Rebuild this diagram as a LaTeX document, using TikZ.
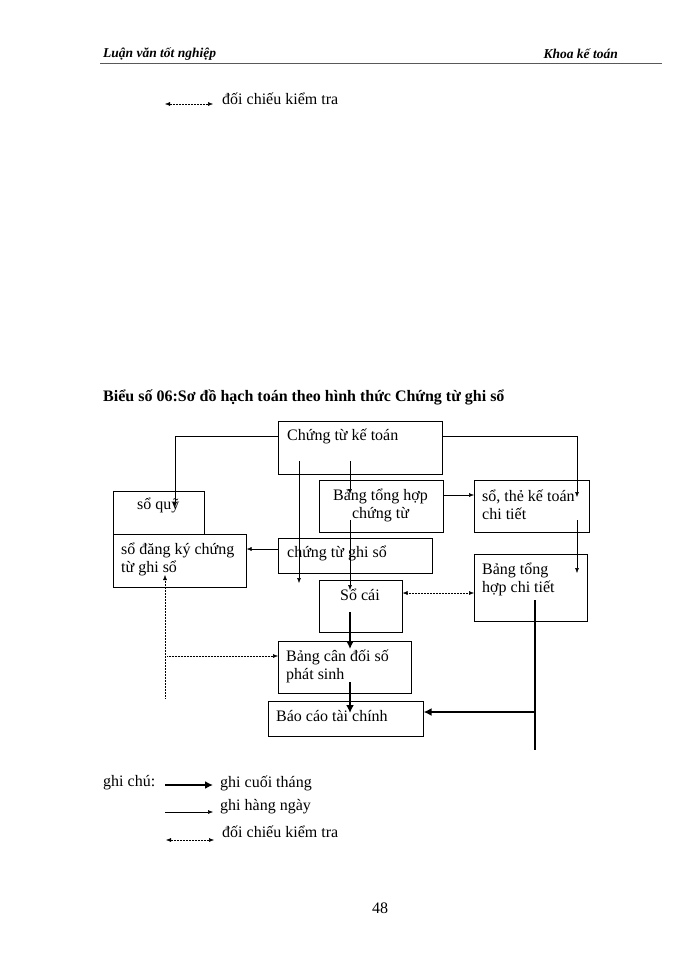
\documentclass[tikz,border=0pt]{standalone}
\usepackage{fontspec}
\setmainfont{Liberation Serif}
\usetikzlibrary{arrows.meta}
\begin{document}
\begin{tikzpicture}[x=1pt,y=-1pt,
  bx/.style={draw,line width=0.6pt,anchor=north west,inner sep=0pt},
  tx/.style={anchor=west,inner sep=0pt,font=\fontsize{16}{18}\selectfont,align=left},
  ln/.style={line width=0.5pt,-{Latex[length=5pt,width=4pt]}},
  dt/.style={line width=0.5pt,densely dotted,-{Latex[length=5pt,width=4pt]}},
  dd/.style={line width=0.5pt,densely dotted,{Latex[length=5pt,width=4pt]}-{Latex[length=5pt,width=4pt]}},
  th/.style={line width=2.4pt,-{Latex[length=8pt,width=8pt]}},
  thn/.style={line width=2.4pt}]
\useasboundingbox (0,0) rectangle (700,960);
% header
\node[tx,font=\fontsize{13.5}{15}\selectfont\bfseries\itshape] (h1) at (103,54) {Luận văn tốt nghiệp};
\node[tx,anchor=east,font=\fontsize{13.5}{15}\selectfont\bfseries\itshape] (h2) at (618,54) {Khoa kế toán};
\coordinate (hl1) at (100,63); \coordinate (hl2) at (662,63);
\draw[line width=0.8pt,gray!70!black] (hl1) -- (hl2);
\coordinate (ta1) at (165,104); \coordinate (ta2) at (213,104);
\draw[dd] (ta1) -- (ta2);
\node[tx] (tl) at (222,99) {đối chiếu kiểm tra};
% title
\node[tx,font=\fontsize{16}{18}\selectfont\bfseries] (title) at (103,397) {Biểu số 06:Sơ đồ hạch toán theo hình thức Chứng từ ghi sổ};
% boxes
\node[bx,minimum width=164pt,minimum height=53pt] (ctkt) at (278,421) {};
\node[bx,minimum width=124pt,minimum height=52pt] (bth) at (319,480) {};
\node[bx,minimum width=115pt,minimum height=52pt] (stkt) at (474,480) {};
\node[bx,minimum width=91pt,minimum height=43pt] (sq) at (113,491) {};
\node[bx,minimum width=133pt,minimum height=53pt] (sdk) at (113,534) {};
\node[bx,minimum width=154pt,minimum height=35pt] (ctgs) at (278,538) {};
\node[bx,minimum width=113pt,minimum height=67pt] (bthct) at (474,554) {};
\node[bx,minimum width=83pt,minimum height=52pt] (sc) at (319,580) {};
\node[bx,minimum width=133pt,minimum height=52pt] (bcd) at (278,641) {};
\node[bx,minimum width=155pt,minimum height=35pt] (bctc) at (268,701) {};
% texts
\node[tx] at (287,436) {Chứng từ kế toán};
\node[tx,align=center] at (333,505) {Bảng tổng hợp\\chứng từ};
\node[tx] at (482,505) {sổ, thẻ kế toán\\chi tiết};
\node[tx] at (137,505) {sổ quỹ};
\node[tx] at (121,559) {sổ đăng ký chứng\\từ ghi sổ};
\node[tx] at (287,553) {chứng từ ghi sổ};
\node[tx] at (482,579) {Bảng tổng\\hợp chi tiết};
\node[tx] at (340,595) {Sổ cái};
\node[tx] at (286,666) {Bảng cân đối số\\phát sinh};
\node[tx] at (276,716) {Báo cáo tài chính};
% connectors
\coordinate (a1) at (175,436); \coordinate (a2) at (175,507);
\draw[ln] (ctkt.west|-a1) -- (a1) -- (a2);
\coordinate (b1) at (577,436); \coordinate (b2) at (577,497);
\draw[ln] (ctkt.east|-b1) -- (b1) -- (b2);
\coordinate (c1) at (299,461); \coordinate (c2) at (299,583);
\draw[ln] (c1) -- (c2);
\coordinate (d1) at (350,461); \coordinate (d2) at (350,494);
\draw[ln] (d1) -- (d2);
\coordinate (e1) at (350,520); \coordinate (e2) at (350,590);
\draw[ln] (e1) -- (e2);
\draw[ln] (bth.east|-0,495) -- (stkt.west|-0,495);
\draw[ln] (ctgs.west|-0,549) -- (sdk.east|-0,549);
\coordinate (f1) at (577,520); \coordinate (f2) at (577,573);
\draw[ln] (f1) -- (f2);
\coordinate (g1) at (165,698); \coordinate (g2) at (165,575);
\draw[dt] (g1) -- (g2);
\coordinate (g3) at (167,656);
\draw[dt] (g3) -- (bcd.west|-g3);
\draw[dd] (sc.east|-0,593) -- (bthct.west|-0,593);
\coordinate (h1a) at (350,612); \coordinate (h1b) at (350,649);
\draw[th] (h1a) -- (h1b);
\coordinate (h2a) at (350,682); \coordinate (h2b) at (350,713);
\draw[th] (h2a) -- (h2b);
\coordinate (k1) at (535,600); \coordinate (k2) at (535,750); \coordinate (k3) at (535,712);
\draw[thn] (k1) -- (k2);
\draw[th] (k3) -- (bctc.east|-k3);
% legend
\node[tx] (gc) at (103,783) {ghi chú:};
\coordinate (l1a) at (165,785); \coordinate (l1b) at (213,785);
\draw[th] (l1a) -- (l1b);
\node[tx] at (220,783) {ghi cuối tháng};
\coordinate (l2a) at (165,812); \coordinate (l2b) at (213,812);
\draw[ln] (l2a) -- (l2b);
\node[tx] at (220,807) {ghi hàng ngày};
\coordinate (l3a) at (166,840); \coordinate (l3b) at (214,840);
\draw[dd] (l3a) -- (l3b);
\node[tx] at (222,832) {đối chiếu kiểm tra};
\node[tx] at (372,908) {48};
\end{tikzpicture}
\end{document}
